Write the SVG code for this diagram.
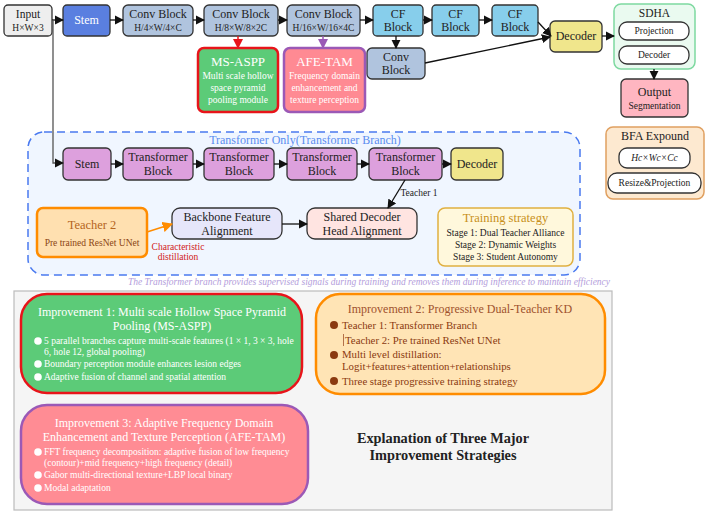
<svg xmlns="http://www.w3.org/2000/svg" width="708" height="514" viewBox="0 0 708 514" font-family="'Liberation Serif', 'DejaVu Serif', serif">
<defs>
<marker id="ah" viewBox="0 0 10 10" refX="9" refY="5" markerWidth="7" markerHeight="7" orient="auto-start-reverse"><path d="M0,0 L10,5 L0,10 z" fill="#111"/></marker>
<marker id="ahr" viewBox="0 0 10 10" refX="9" refY="5" markerWidth="7" markerHeight="7" orient="auto"><path d="M0,0 L10,5 L0,10 z" fill="#e8141a"/></marker>
<marker id="ahp" viewBox="0 0 10 10" refX="9" refY="5" markerWidth="7" markerHeight="7" orient="auto"><path d="M0,0 L10,5 L0,10 z" fill="#9b59b6"/></marker>
<marker id="aho" viewBox="0 0 10 10" refX="9" refY="5" markerWidth="7" markerHeight="7" orient="auto"><path d="M0,0 L10,5 L0,10 z" fill="#ff8c00"/></marker>
</defs>
<style>
text{font-family:'Liberation Serif','DejaVu Serif',serif;text-anchor:middle;fill:#222}
.b{stroke:#333;stroke-width:1.3}
.w{fill:#fff}
.t12{font-size:12px}
.t9{font-size:9.5px}
.t10{font-size:10.8px}
.conn{stroke:#111;stroke-width:1.3;fill:none;marker-end:url(#ah)}
.lft{text-anchor:start}
</style>
<rect x="0" y="0" width="708" height="514" fill="#fff"/>

<g id="transformer-branch">
<rect x="28" y="132" width="552" height="143" rx="16" fill="#f0f6ff" stroke="#4a7af0" stroke-width="1.5" stroke-dasharray="8,5"/>
<text x="305" y="144" style="font-size:12px;fill:#5b8def">Transformer Only(Transformer Branch)</text>
</g>

<g id="input"><rect class="b" x="4" y="5" width="48" height="31" rx="4" fill="#eeeeee"/><text x="28" y="18" style="font-size:11.5px">Input</text><text x="28" y="31" class="t9">H×W×3</text></g>
<g id="stem"><rect class="b" x="63" y="5" width="47" height="31" rx="4" fill="#5a7fe0"/><text x="86.5" y="24" class="t12 w">Stem</text></g>
<g id="conv1"><rect class="b" x="123" y="5" width="70" height="31" rx="5" fill="#b0c4de"/><text x="158" y="18" class="t12">Conv Block</text><text x="158" y="31" class="t9">H/4×W/4×C</text></g>
<g id="conv2"><rect class="b" x="204" y="5" width="74" height="31" rx="5" fill="#b0c4de"/><text x="241" y="18" class="t12">Conv Block</text><text x="241" y="31" class="t9">H/8×W/8×2C</text></g>
<g id="conv3"><rect class="b" x="287" y="5" width="73" height="31" rx="5" fill="#b0c4de"/><text x="323.5" y="18" class="t12">Conv Block</text><text x="323.5" y="31" class="t9">H/16×W/16×4C</text></g>
<g id="cf1"><rect class="b" x="373" y="5" width="50" height="31" rx="4" fill="#87ceeb"/><text x="398" y="18" class="t12">CF</text><text x="398" y="31" class="t12">Block</text></g>
<g id="cf2"><rect class="b" x="432" y="5" width="47" height="31" rx="4" fill="#87ceeb"/><text x="455.5" y="18" class="t12">CF</text><text x="455.5" y="31" class="t12">Block</text></g>
<g id="cf3"><rect class="b" x="492" y="5" width="46" height="31" rx="4" fill="#87ceeb"/><text x="515" y="18" class="t12">CF</text><text x="515" y="31" class="t12">Block</text></g>
<g id="conv4"><rect class="b" x="367" y="48" width="58" height="31" rx="5" fill="#b0c4de"/><text x="396" y="61" class="t12">Conv</text><text x="396" y="74" class="t12">Block</text></g>
<g id="decoder"><rect class="b" x="550" y="21" width="52" height="31" rx="5" fill="#f0e68c"/><text x="576" y="40" class="t12">Decoder</text></g>
<g id="sdha"><rect x="614" y="4" width="81" height="65" rx="7" fill="#eafaf0" stroke="#7ed9a0" stroke-width="1.5"/><text x="654.5" y="17" style="font-size:11.5px">SDHA</text>
<rect class="b" x="619" y="22" width="70" height="18" rx="8" fill="#fff" stroke-width="1"/><text x="654" y="34" class="t9">Projection</text>
<rect class="b" x="619" y="46" width="70" height="18" rx="8" fill="#fff" stroke-width="1"/><text x="654" y="58" class="t9">Decoder</text></g>
<g id="output"><rect class="b" x="621" y="79" width="67" height="38" rx="5" fill="#ffb6c1"/><text x="654.5" y="96" class="t12">Output</text><text x="654.5" y="109" class="t9">Segmentation</text></g>
<g id="ms-aspp"><rect x="198" y="48" width="80" height="64" rx="6" fill="#5ccb78" stroke="#e8141a" stroke-width="2.5"/><text x="238" y="66" class="w" style="font-size:13px">MS-ASPP</text><text x="238" y="79" class="t9 w">Multi scale hollow</text><text x="238" y="91" class="t9 w">space pyramid</text><text x="238" y="103" class="t9 w">pooling module</text></g>
<g id="afe-tam"><rect x="284" y="48" width="81" height="64" rx="6" fill="#ff8a93" stroke="#9b59b6" stroke-width="2.5"/><text x="324.5" y="66" class="w" style="font-size:13px">AFE-TAM</text><text x="324.5" y="79" class="t9 w">Frequency domain</text><text x="324.5" y="91" class="t9 w">enhancement and</text><text x="324.5" y="103" class="t9 w">texture perception</text></g>

<g id="t-stem"><rect class="b" x="63" y="148" width="48" height="32" rx="5" fill="#dda0dd"/><text x="87" y="168" class="t12">Stem</text></g>
<g id="tb1"><rect class="b" x="123" y="148" width="70" height="32" rx="5" fill="#dda0dd"/><text x="158" y="161" class="t12">Transformer</text><text x="158" y="175" class="t12">Block</text></g>
<g id="tb2"><rect class="b" x="204" y="148" width="70" height="32" rx="5" fill="#dda0dd"/><text x="239" y="161" class="t12">Transformer</text><text x="239" y="175" class="t12">Block</text></g>
<g id="tb3"><rect class="b" x="287" y="148" width="70" height="32" rx="5" fill="#dda0dd"/><text x="322" y="161" class="t12">Transformer</text><text x="322" y="175" class="t12">Block</text></g>
<g id="tb4"><rect class="b" x="369" y="148" width="73" height="32" rx="5" fill="#dda0dd"/><text x="405.5" y="161" class="t12">Transformer</text><text x="405.5" y="175" class="t12">Block</text></g>
<g id="t-decoder"><rect class="b" x="451" y="148" width="52" height="32" rx="5" fill="#f0e68c"/><text x="477" y="168" class="t12">Decoder</text></g>
<g id="teacher2"><rect x="37" y="208" width="110" height="49" rx="6" fill="#ffe0b0" stroke="#ff8c00" stroke-width="2.5"/><text x="92" y="229" style="font-size:12.5px;fill:#b5651d">Teacher 2</text><text x="92" y="246" class="t9" style="fill:#8b4513">Pre trained ResNet UNet</text></g>
<g id="backbone-align"><rect class="b" x="172" y="208" width="110" height="31" rx="8" fill="#e6e6fa"/><text x="227" y="221" class="t12">Backbone Feature</text><text x="227" y="235" class="t12">Alignment</text></g>
<g id="shared-align"><rect class="b" x="307" y="208" width="110" height="31" rx="8" fill="#ffe4e1"/><text x="362" y="221" class="t12">Shared Decoder</text><text x="362" y="235" class="t12">Head Alignment</text></g>
<g id="training"><rect x="438" y="208" width="135" height="58" rx="7" fill="#fff8dc" stroke="#e0b040" stroke-width="1.5"/><text x="505.5" y="222" style="font-size:12.5px;fill:#c8901a">Training strategy</text><text x="505.5" y="236" class="t9">Stage 1: Dual Teacher Alliance</text><text x="505.5" y="248" class="t9">Stage 2: Dynamic Weights</text><text x="505.5" y="260" class="t9">Stage 3: Student Autonomy</text></g>
<g id="bfa"><rect x="606" y="127" width="98" height="72" rx="7" fill="#fde9d0" stroke="#e0a060" stroke-width="1.5"/><text x="655" y="140" style="font-size:12px">BFA Expound</text>
<rect class="b" x="619" y="148" width="71" height="20" rx="8" fill="#fff" stroke-width="1"/><text x="654.5" y="161" class="t9" style="font-style:italic">Hc×Wc×Cc</text>
<rect class="b" x="608" y="173" width="93" height="20" rx="9" fill="#fff" stroke-width="1"/><text x="654.5" y="186" class="t9">Resize&amp;Projection</text></g>

<g id="labels">
<text x="178" y="250" class="t9" style="fill:#d02020">Characteristic</text>
<text x="178" y="260" class="t9" style="fill:#d02020">distillation</text>
<text x="419" y="196" class="t9">Teacher 1</text>
<text x="369" y="285" style="font-size:9.5px;font-style:italic;fill:#b39ddb">The Transformer branch provides supervised signals during training and removes them during inference to maintain efficiency</text>
</g>

<g id="connectors">
<line class="conn" x1="52" y1="20" x2="63" y2="20"/>
<line class="conn" x1="110" y1="20" x2="123" y2="20"/>
<line class="conn" x1="193" y1="20" x2="204" y2="20"/>
<line class="conn" x1="278" y1="20" x2="287" y2="20"/>
<line class="conn" x1="360" y1="20" x2="373" y2="20"/>
<line class="conn" x1="423" y1="20" x2="432" y2="20"/>
<line class="conn" x1="479" y1="20" x2="492" y2="20"/>
<line class="conn" x1="538" y1="22" x2="551" y2="36"/>
<line class="conn" x1="396" y1="36" x2="396" y2="48"/>
<line class="conn" x1="425" y1="63" x2="550" y2="37"/>
<line class="conn" x1="602" y1="36" x2="614" y2="36"/>
<line class="conn" x1="654" y1="69" x2="654" y2="79"/>
<line x1="238" y1="36" x2="238" y2="48" stroke="#e8141a" stroke-width="1.5" marker-end="url(#ahr)"/>
<line x1="323" y1="36" x2="323" y2="48" stroke="#9b59b6" stroke-width="1.5" marker-end="url(#ahp)"/>
<path d="M53,20 V163 H63" stroke="#555" stroke-width="1.3" fill="none" marker-end="url(#ah)"/>
<line class="conn" x1="111" y1="164" x2="123" y2="164"/>
<line class="conn" x1="193" y1="164" x2="204" y2="164"/>
<line class="conn" x1="274" y1="164" x2="287" y2="164"/>
<line class="conn" x1="357" y1="164" x2="369" y2="164"/>
<line class="conn" x1="442" y1="164" x2="451" y2="164"/>
<line class="conn" x1="405" y1="180" x2="388" y2="208"/>
<line x1="147" y1="232" x2="172" y2="224" stroke="#ff8c00" stroke-width="1.5" marker-end="url(#aho)"/>
<line class="conn" x1="282" y1="224" x2="307" y2="224"/>
</g>

<g id="panel">
<rect x="14" y="291" width="598" height="219" fill="#f5f5f5" stroke="#bbb" stroke-width="1.2"/>
<text x="443" y="443" style="font-size:14.3px;font-weight:bold">Explanation of Three Major</text>
<text x="443" y="460" style="font-size:14.3px;font-weight:bold">Improvement Strategies</text>
</g>
<g id="improvement1">
<rect x="21" y="294" width="281" height="99" rx="26" fill="#5ccb78" stroke="#e8141a" stroke-width="2.5"/>
<text x="162" y="316" class="w" style="font-size:12px">Improvement 1: Multi scale Hollow Space Pyramid</text>
<text x="162" y="330" class="w" style="font-size:12px">Pooling (MS-ASPP)</text>
<circle cx="38" cy="341" r="3.8" fill="#fff"/><circle cx="38" cy="364" r="3.8" fill="#fff"/><circle cx="38" cy="377" r="3.8" fill="#fff"/>
<text x="44" y="344" class="t9 w lft">5 parallel branches capture multi-scale features (1 × 1, 3 × 3, hole</text>
<text x="44" y="355" class="t9 w lft">6, hole 12, global pooling)</text>
<text x="44" y="367" class="t9 w lft">Boundary perception module enhances lesion edges</text>
<text x="44" y="380" class="t9 w lft">Adaptive fusion of channel and spatial attention</text>
</g>
<g id="improvement2">
<rect x="316" y="294" width="289" height="100" rx="24" fill="#ffe4b5" stroke="#ff8c00" stroke-width="2.5"/>
<text x="460" y="313" style="font-size:12px;fill:#a0522d">Improvement 2: Progressive Dual-Teacher KD</text>
<circle cx="334" cy="325" r="4" fill="#8b3a10"/><circle cx="334" cy="355" r="4" fill="#8b3a10"/><circle cx="334" cy="381" r="4" fill="#8b3a10"/>
<text x="342" y="329" class="t10 lft" style="fill:#8b3a10">Teacher 1: Transformer Branch</text>
<line x1="343.5" y1="334" x2="343.5" y2="346" stroke="#a0522d" stroke-width="0.8"/>
<text x="345" y="344" class="t10 lft" style="fill:#8b3a10">Teacher 2: Pre trained ResNet UNet</text>
<text x="342" y="358" class="t10 lft" style="fill:#8b3a10">Multi level distillation:</text>
<text x="342" y="370" class="t10 lft" style="fill:#8b3a10">Logit+features+attention+relationships</text>
<text x="342" y="385" class="t10 lft" style="fill:#8b3a10">Three stage progressive training strategy</text>
</g>
<g id="improvement3">
<rect x="21" y="405" width="287" height="99" rx="26" fill="#ff8c94" stroke="#9b59b6" stroke-width="2.5"/>
<text x="164" y="427" class="w" style="font-size:12px">Improvement 3: Adaptive Frequency Domain</text>
<text x="164" y="441" class="w" style="font-size:12px">Enhancement and Texture Perception (AFE-TAM)</text>
<circle cx="38" cy="452" r="3.8" fill="#fff"/><circle cx="38" cy="475" r="3.8" fill="#fff"/><circle cx="38" cy="488" r="3.8" fill="#fff"/>
<text x="44" y="455" class="t9 w lft">FFT frequency decomposition: adaptive fusion of low frequency</text>
<text x="44" y="466" class="t9 w lft">(contour)+mid frequency+high frequency (detail)</text>
<text x="44" y="478" class="t9 w lft">Gabor multi-directional texture+LBP local binary</text>
<text x="44" y="491" class="t9 w lft">Modal adaptation</text>
</g>
</svg>
